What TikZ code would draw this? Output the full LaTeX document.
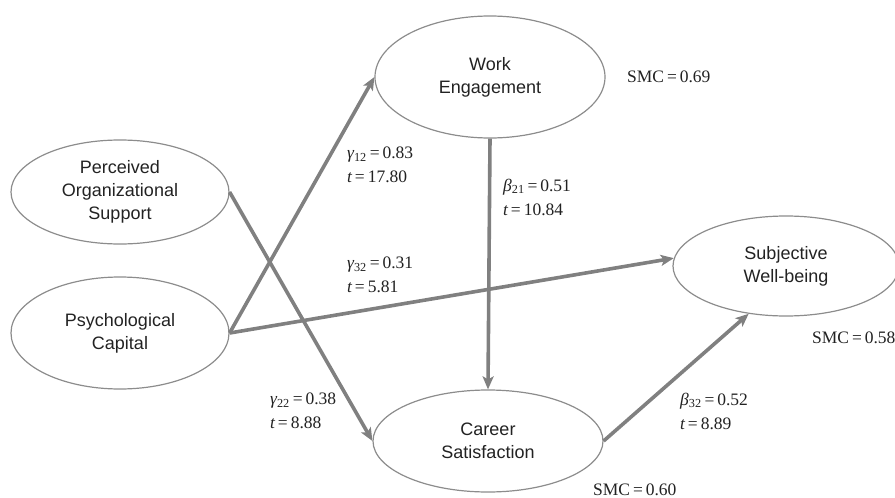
\documentclass[tikz,border=0pt]{standalone}
\usepackage{fontspec}
\setmainfont{Liberation Serif}
\newfontfamily\labsans{Liberation Sans}
\usetikzlibrary{shapes.geometric,arrows.meta}
\definecolor{linegray}{HTML}{808080}
\definecolor{edgegray}{HTML}{8C8C8C}
\definecolor{txt}{HTML}{222222}
\tikzset{
  latent/.style={ellipse, draw=edgegray, line width=1.2pt, inner sep=0pt, align=center,
    font=\labsans\fontsize{18}{23}\selectfont, text=txt},
  path/.style={draw=linegray, line width=3.6pt,
    -{Stealth[length=13pt,width=11pt,inset=3pt]}, shorten >=0pt},
  coef/.style={anchor=west, align=left, inner sep=0pt, text=txt,
    font=\fontsize{17.5}{24}\selectfont},
  smc/.style={anchor=west, inner sep=0pt, text=txt, font=\fontsize{17.5}{21}\selectfont}
}
\begin{document}
\begin{tikzpicture}[x=1pt,y=-1pt]
\useasboundingbox (0,0) rectangle (895,498);
\node[latent, minimum width=218pt, minimum height=104pt] (pos) at (120,192) {Perceived\\Organizational\\Support};
\node[latent, minimum width=218pt, minimum height=112pt] (pc) at (120,333) {Psychological\\Capital};
\node[latent, minimum width=230pt, minimum height=122pt] (we) at (490,77) {Work\\Engagement};
\node[latent, minimum width=230pt, minimum height=102pt] (cs) at (488,441) {Career\\Satisfaction};
\node[latent, minimum width=226pt, minimum height=100pt] (swb) at (786,266) {Subjective\\Well-being};

\draw[path] (pc.east) -- (we.west);
\draw[path] (pos.east) -- (cs.west);
\draw[path] (pc.east) -- (swb.176);
\draw[path] (we.south) -- (cs.north);
\draw[path] (cs.east) -- (swb.232);

\node[coef] (l12) at (347,165) {{\itshape γ}\textsubscript{12}\,=\,0.83\\{\itshape t}\,=\,17.80};
\node[coef] (l21) at (503,197) {{\itshape β}\textsubscript{21}\,=\,0.51\\{\itshape t}\,=\,10.84};
\node[coef] (l32) at (347,275) {{\itshape γ}\textsubscript{32}\,=\,0.31\\{\itshape t}\,=\,5.81};
\node[coef] (l22) at (270,411) {{\itshape γ}\textsubscript{22}\,=\,0.38\\{\itshape t}\,=\,8.88};
\node[coef] (b32) at (680,411) {{\itshape β}\textsubscript{32}\,=\,0.52\\{\itshape t}\,=\,8.89};

\node[smc] (s1) at (627,77) {SMC\,=\,0.69};
\node[smc] (s2) at (812,338) {SMC\,=\,0.58};
\node[smc] (s3) at (593,490) {SMC\,=\,0.60};
\end{tikzpicture}
\end{document}
